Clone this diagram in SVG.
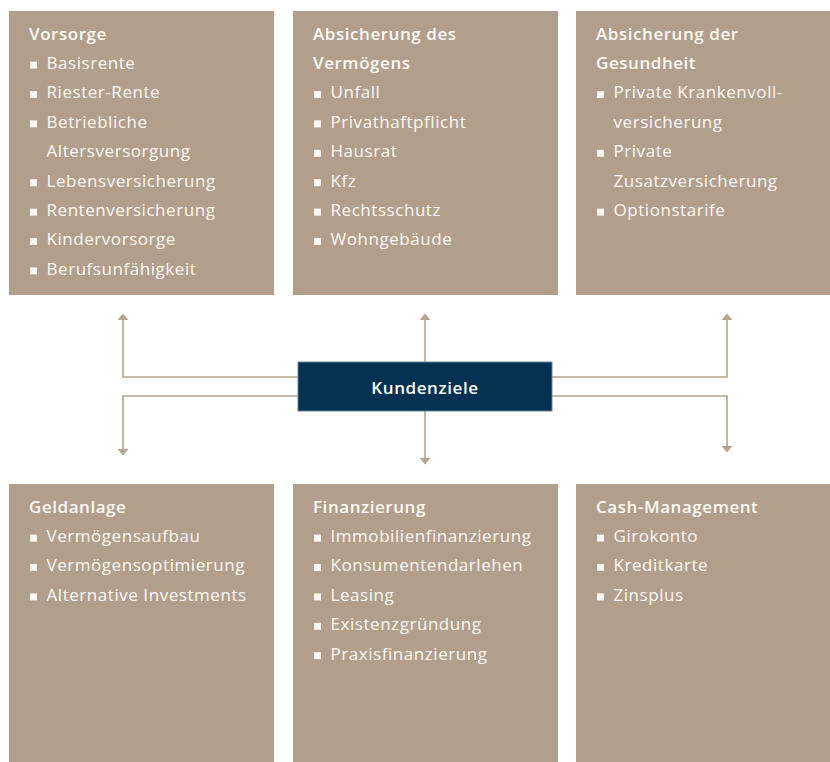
<svg xmlns="http://www.w3.org/2000/svg" width="830" height="762" viewBox="0 0 830 762">
<style>
.box{fill:#b19f8b}
.t{font-family:"Open Sans","Noto Sans","DejaVu Sans",sans-serif;font-size:17px;letter-spacing:0.55px;fill:#fbf8f4}
.h{font-weight:600}
.b{fill:#fbf8f4}
.con{fill:none;stroke:#b5a591;stroke-width:1.6}
.ah{fill:#b5a591}
.center{fill:#033152;stroke:#6c8398;stroke-width:1}
.ct{font-family:"Open Sans","Noto Sans","DejaVu Sans",sans-serif;font-size:17px;letter-spacing:0.6px;font-weight:600;fill:#ffffff}
</style>
<defs>
<rect id="sq" width="7" height="7" class="b"/>
</defs>

<g id="connectors">
<path class="con" d="M298,377 H123 V320"/>
<path class="con" d="M298,396 H123 V449"/>
<path class="con" d="M552,377 H727 V320"/>
<path class="con" d="M552,396 H727 V446"/>
<path class="con" d="M425,362 V320"/>
<path class="con" d="M425,411 V458"/>
<path class="ah" d="M117.5,320 L123,313.5 L128.5,320 Z"/>
<path class="ah" d="M117.5,449 L123,455.5 L128.5,449 Z"/>
<path class="ah" d="M721.5,320 L727,313.5 L732.5,320 Z"/>
<path class="ah" d="M721.5,446 L727,452.5 L732.5,446 Z"/>
<path class="ah" d="M419.5,320 L425,313.5 L430.5,320 Z"/>
<path class="ah" d="M419.5,458 L425,464.5 L430.5,458 Z"/>
</g>

<g id="kundenziele">
<rect class="center" x="298" y="362" width="254" height="49"/>
<text class="ct" x="425" y="394" text-anchor="middle">Kundenziele</text>
</g>

<g id="vorsorge" transform="translate(9,11)">
<rect class="box" width="265" height="284"/>
<text class="t h" x="20" y="28.5">Vorsorge</text>
<use href="#sq" x="21" y="50.6"/><text class="t" x="37.5" y="57.9">Basisrente</text>
<use href="#sq" x="21" y="80"/><text class="t" x="37.5" y="87.3">Riester-Rente</text>
<use href="#sq" x="21" y="109.4"/><text class="t" x="37.5" y="116.7">Betriebliche</text>
<text class="t" x="37.5" y="146.1">Altersversorgung</text>
<use href="#sq" x="21" y="168.2"/><text class="t" x="37.5" y="175.5">Lebensversicherung</text>
<use href="#sq" x="21" y="197.6"/><text class="t" x="37.5" y="204.9">Rentenversicherung</text>
<use href="#sq" x="21" y="227"/><text class="t" x="37.5" y="234.3">Kindervorsorge</text>
<use href="#sq" x="21" y="256.4"/><text class="t" x="37.5" y="263.7">Berufsunfähigkeit</text>
</g>

<g id="absicherung-vermoegen" transform="translate(293,11)">
<rect class="box" width="265" height="284"/>
<text class="t h" x="20" y="28.5">Absicherung des</text>
<text class="t h" x="20" y="57.9">Vermögens</text>
<use href="#sq" x="21" y="80"/><text class="t" x="37.5" y="87.3">Unfall</text>
<use href="#sq" x="21" y="109.4"/><text class="t" x="37.5" y="116.7">Privathaftpflicht</text>
<use href="#sq" x="21" y="138.8"/><text class="t" x="37.5" y="146.1">Hausrat</text>
<use href="#sq" x="21" y="168.2"/><text class="t" x="37.5" y="175.5">Kfz</text>
<use href="#sq" x="21" y="197.6"/><text class="t" x="37.5" y="204.9">Rechtsschutz</text>
<use href="#sq" x="21" y="227"/><text class="t" x="37.5" y="234.3">Wohngebäude</text>
</g>

<g id="absicherung-gesundheit" transform="translate(576,11)">
<rect class="box" width="265" height="284"/>
<text class="t h" x="20" y="28.5">Absicherung der</text>
<text class="t h" x="20" y="57.9">Gesundheit</text>
<use href="#sq" x="21" y="80"/><text class="t" x="37.5" y="87.3">Private Krankenvoll-</text>
<text class="t" x="37.5" y="116.7">versicherung</text>
<use href="#sq" x="21" y="138.8"/><text class="t" x="37.5" y="146.1">Private</text>
<text class="t" x="37.5" y="175.5">Zusatzversicherung</text>
<use href="#sq" x="21" y="197.6"/><text class="t" x="37.5" y="204.9">Optionstarife</text>
</g>

<g id="geldanlage" transform="translate(9,484)">
<rect class="box" width="265" height="290"/>
<text class="t h" x="20" y="28.5">Geldanlage</text>
<use href="#sq" x="21" y="50.6"/><text class="t" x="37.5" y="57.9">Vermögensaufbau</text>
<use href="#sq" x="21" y="80"/><text class="t" x="37.5" y="87.3">Vermögensoptimierung</text>
<use href="#sq" x="21" y="109.4"/><text class="t" x="37.5" y="116.7">Alternative Investments</text>
</g>

<g id="finanzierung" transform="translate(293,484)">
<rect class="box" width="265" height="290"/>
<text class="t h" x="20" y="28.5">Finanzierung</text>
<use href="#sq" x="21" y="50.6"/><text class="t" x="37.5" y="57.9">Immobilienfinanzierung</text>
<use href="#sq" x="21" y="80"/><text class="t" x="37.5" y="87.3">Konsumentendarlehen</text>
<use href="#sq" x="21" y="109.4"/><text class="t" x="37.5" y="116.7">Leasing</text>
<use href="#sq" x="21" y="138.8"/><text class="t" x="37.5" y="146.1">Existenzgründung</text>
<use href="#sq" x="21" y="168.2"/><text class="t" x="37.5" y="175.5">Praxisfinanzierung</text>
</g>

<g id="cash-management" transform="translate(576,484)">
<rect class="box" width="265" height="290"/>
<text class="t h" x="20" y="28.5">Cash-Management</text>
<use href="#sq" x="21" y="50.6"/><text class="t" x="37.5" y="57.9">Girokonto</text>
<use href="#sq" x="21" y="80"/><text class="t" x="37.5" y="87.3">Kreditkarte</text>
<use href="#sq" x="21" y="109.4"/><text class="t" x="37.5" y="116.7">Zinsplus</text>
</g>
</svg>
